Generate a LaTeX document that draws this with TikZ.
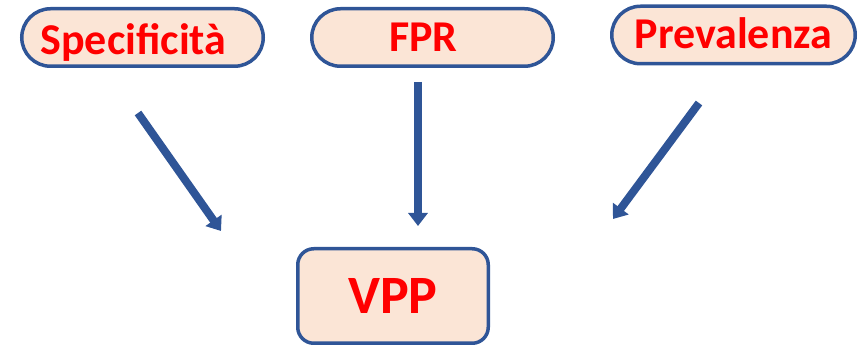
\documentclass[tikz,border=0pt]{standalone}
\usepackage{fontspec}
\setmainfont{Carlito}
\usepackage{tikz}
\usetikzlibrary{arrows.meta, positioning, shapes.misc}
\definecolor{frame}{HTML}{2F5597}
\definecolor{peach}{HTML}{FBE5D6}
\definecolor{label}{HTML}{FF0000}
\tikzstyle{factor} = [rounded rectangle, minimum width=241.5pt, minimum height=57.5pt, inner sep=0pt, line width=3.5pt, draw=frame, fill=peach, text=label, font=\fontsize{44}{48}\bfseries\selectfont, text height=28pt, text depth=0pt]
\tikzstyle{result} = [rectangle, rounded corners=16pt, minimum width=190.5pt, minimum height=94.5pt, inner sep=0pt, line width=3.5pt, draw=frame, fill=peach, text=label, font=\fontsize{54}{58}\bfseries\selectfont, text height=35pt, text depth=0pt]
\tikzstyle{arrow} = [line width=8pt, frame, -{Triangle[width=19pt, length=13pt]}]

\begin{document}
\begin{tikzpicture}[x=1pt, y=-1pt]
    \useasboundingbox (0,0) rectangle (865,347);

    % Input factors
    \node (spec) [factor, text height=35pt] at (142.5,37.5) {Specificità\hspace*{18pt}};
    \node (fpr) [factor] at (432.5,37.5) {FPR\hspace*{18pt}};
    \node (prev) [factor, minimum width=243.5pt] at (733.5,35) {Prevalenza};

    % Output
    \node (vpp) [result] at (393,296) {VPP};

    % Arrow ends
    \coordinate (spec-out) at (138,113);
    \coordinate (spec-in) at (221,231);
    \coordinate (fpr-out) at (418,82);
    \coordinate (fpr-in) at (418,226);
    \coordinate (prev-out) at (699,103);
    \coordinate (prev-in) at (613,219);

    % Arrows
    \draw [arrow] (spec-out) -- (spec-in);
    \draw [arrow] (fpr-out) -- (fpr-in);
    \draw [arrow] (prev-out) -- (prev-in);

\end{tikzpicture}
\end{document}
